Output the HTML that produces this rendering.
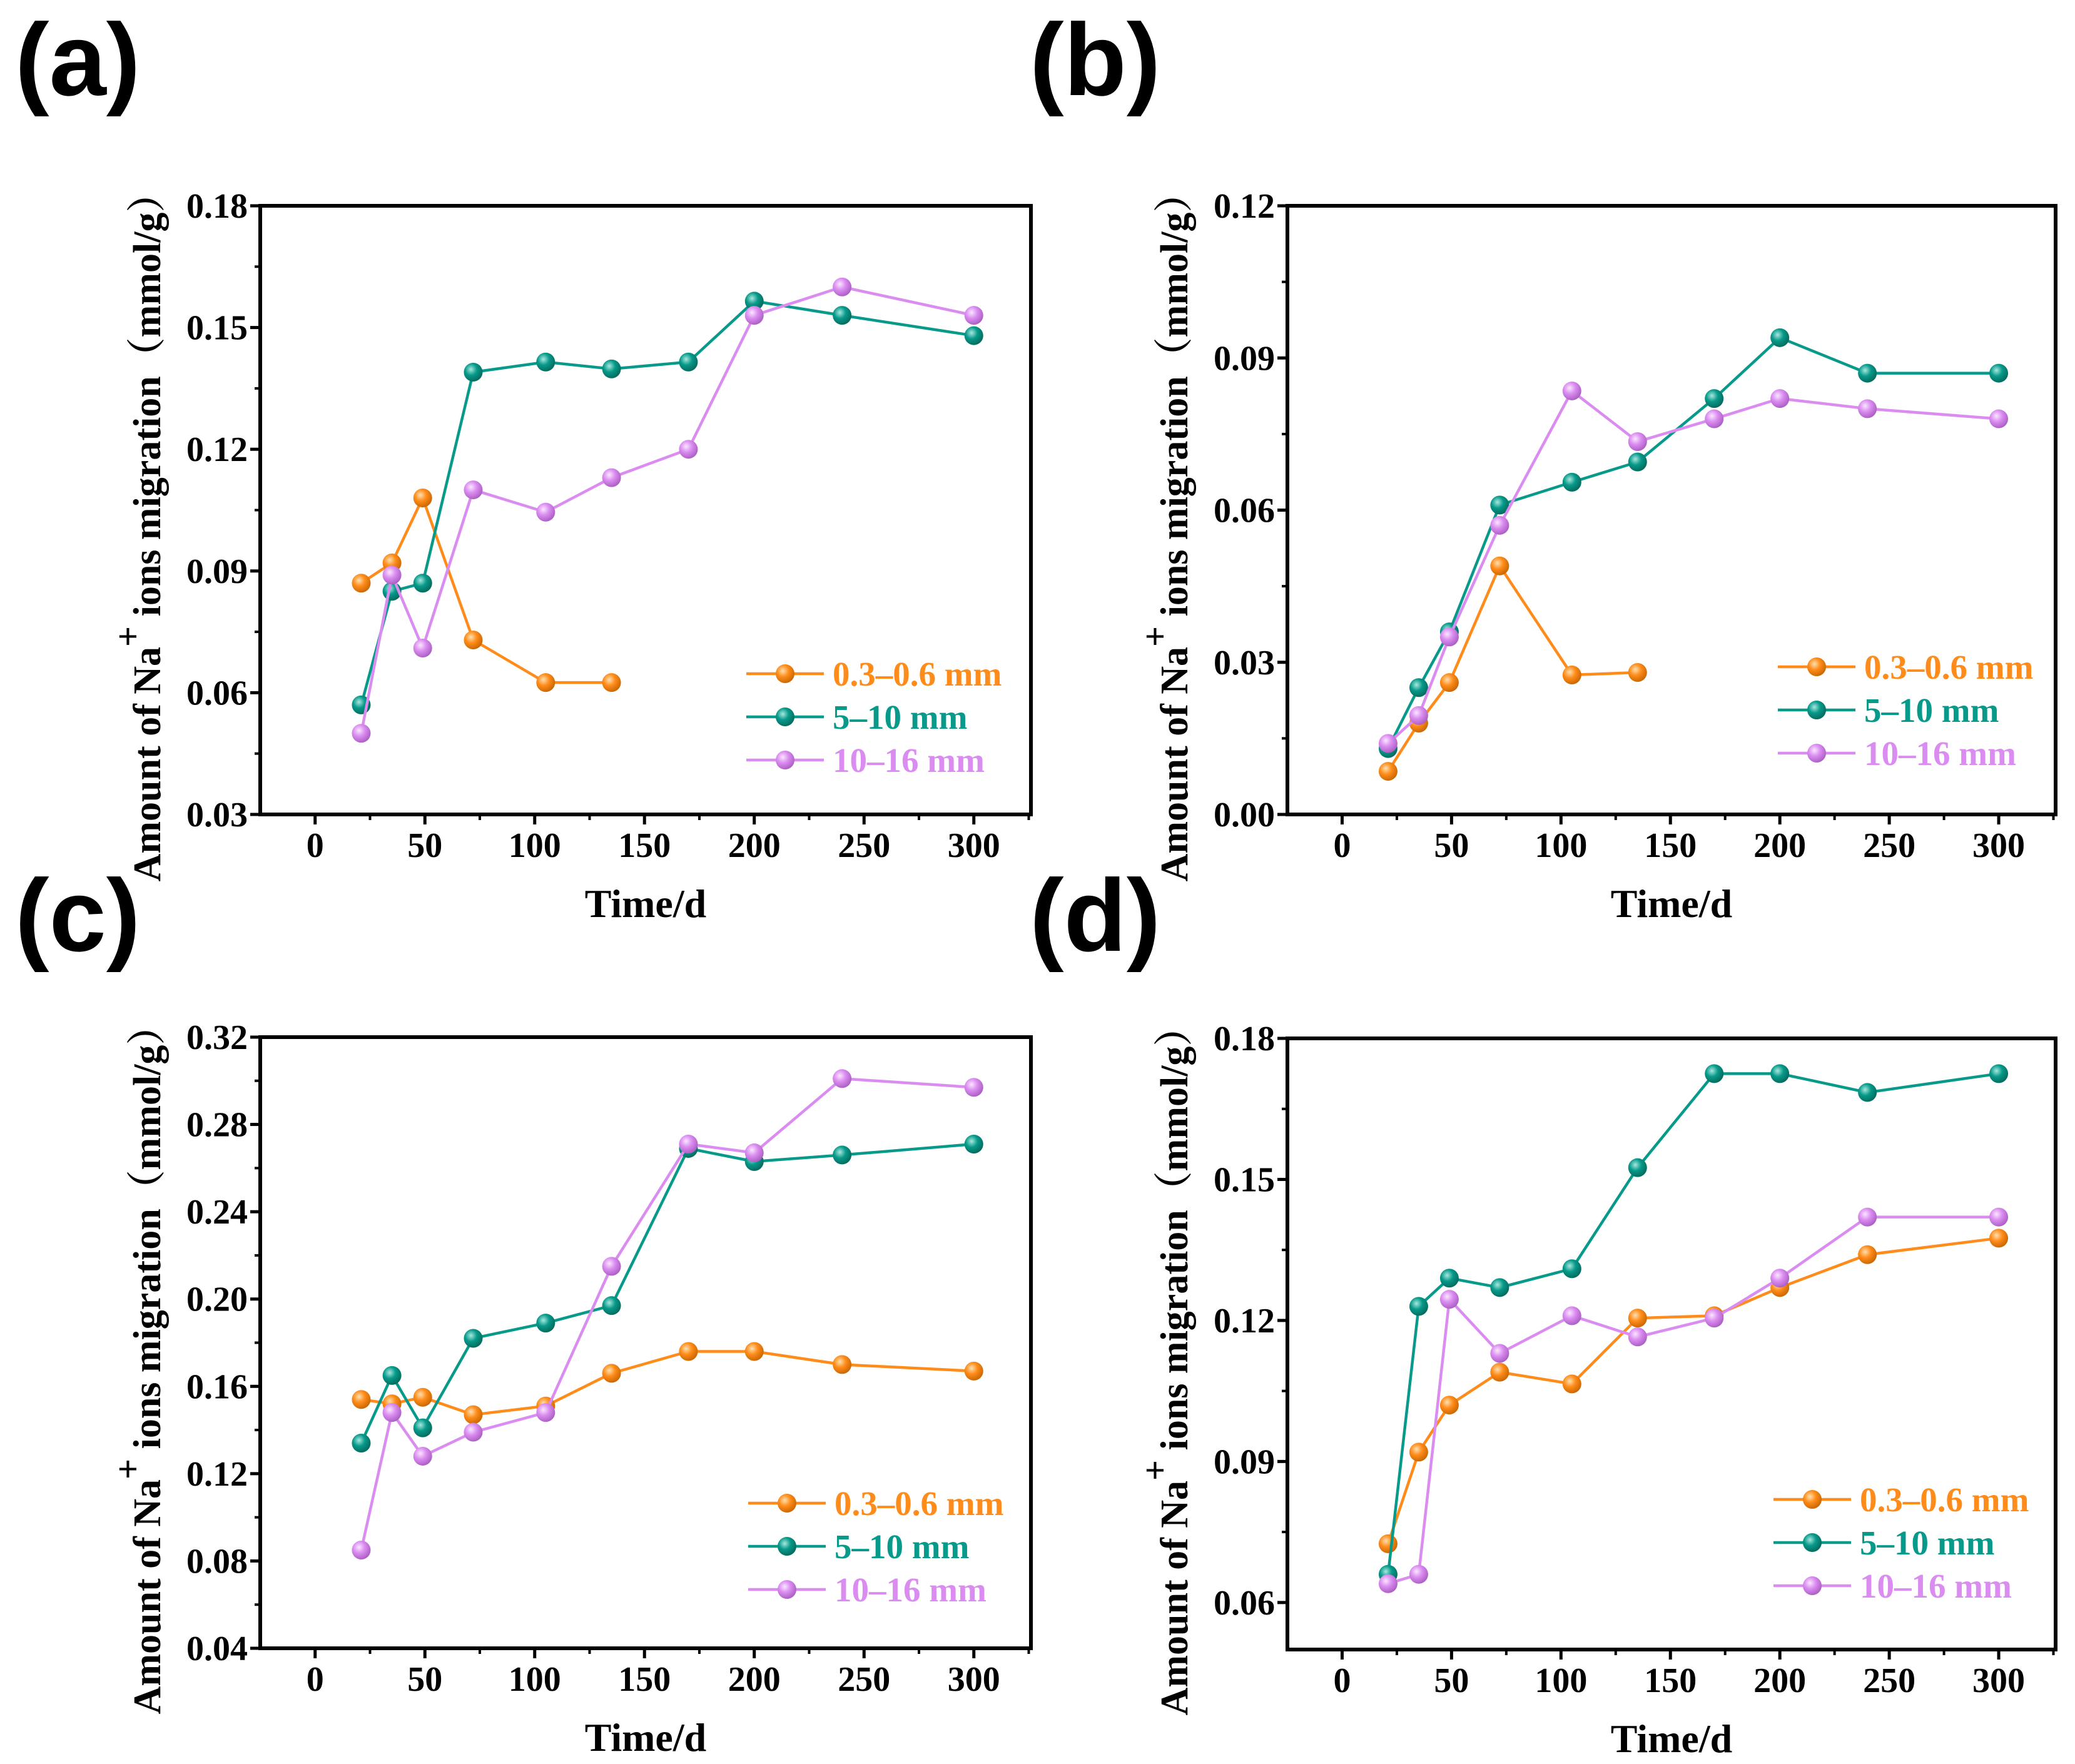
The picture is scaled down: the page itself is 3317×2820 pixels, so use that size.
<!DOCTYPE html>
<html><head><meta charset="utf-8"><style>
html,body{margin:0;padding:0;background:#fff}
svg{display:block}
</style></head><body>
<svg id="fig" width="3317" height="2820" viewBox="0 0 3317 2820" xmlns="http://www.w3.org/2000/svg">
<defs>
<radialGradient id="gO" cx="0.38" cy="0.35" r="0.7"><stop offset="0" stop-color="#ffe0b0"/><stop offset="0.45" stop-color="#ff8c1a"/><stop offset="1" stop-color="#c56400"/></radialGradient>
<radialGradient id="gT" cx="0.38" cy="0.35" r="0.7"><stop offset="0" stop-color="#a8e8df"/><stop offset="0.45" stop-color="#079a8a"/><stop offset="1" stop-color="#03665a"/></radialGradient>
<radialGradient id="gP" cx="0.38" cy="0.35" r="0.7"><stop offset="0" stop-color="#fbe6ff"/><stop offset="0.45" stop-color="#da8cf0"/><stop offset="1" stop-color="#a85bbf"/></radialGradient>
</defs>
</svg>
<script>
const days = [21, 35, 49, 72, 105, 135, 170, 200, 240, 300];
const seriesNames = ["0.3–0.6 mm", "5–10 mm", "10–16 mm"];
const aOrange = [0.087, 0.092, 0.108, 0.073, 0.0625, 0.0625];
const aTeal = [0.057, 0.085, 0.087, 0.139, 0.1415, 0.1398, 0.1415, 0.1565, 0.153, 0.148];
const aPink = [0.050, 0.089, 0.071, 0.110, 0.1045, 0.113, 0.120, 0.153, 0.160, 0.153];
const bOrange = [0.0085, 0.018, 0.026, 0.049, 0.0275, 0.028];
const bTeal = [0.013, 0.025, 0.036, 0.061, 0.0655, 0.0695, 0.082, 0.094, 0.087, 0.087];
const bPink = [0.014, 0.0195, 0.035, 0.057, 0.0835, 0.0735, 0.078, 0.082, 0.080, 0.078];
const cOrange = [0.154, 0.152, 0.155, 0.147, 0.151, 0.166, 0.176, 0.176, 0.170, 0.167];
const cTeal = [0.134, 0.165, 0.141, 0.182, 0.189, 0.197, 0.269, 0.263, 0.266, 0.271];
const cPink = [0.085, 0.148, 0.128, 0.139, 0.148, 0.215, 0.271, 0.267, 0.301, 0.297];
const dOrange = [0.0725, 0.092, 0.102, 0.109, 0.1065, 0.1205, 0.121, 0.127, 0.134, 0.1375];
const dTeal = [0.066, 0.123, 0.129, 0.127, 0.131, 0.1525, 0.1725, 0.1725, 0.1685, 0.1725];
const dPink = [0.064, 0.066, 0.1245, 0.113, 0.121, 0.1165, 0.1205, 0.129, 0.142, 0.142];
const xTicks = [0, 50, 100, 150, 200, 250, 300];
const aYTicks = [0.03, 0.06, 0.09, 0.12, 0.15, 0.18];
const bYTicks = [0.00, 0.03, 0.06, 0.09, 0.12];
const cYTicks = [0.04, 0.08, 0.12, 0.16, 0.20, 0.24, 0.28, 0.32];
const dYTicks = [0.06, 0.09, 0.12, 0.15, 0.18];

const NS = "http://www.w3.org/2000/svg";
const svg = document.getElementById('fig');
const colors = ["#ff8c1a", "#079a8a", "#da8cf0"];
const grads = ["url(#gO)", "url(#gT)", "url(#gP)"];
function mk(tag, attrs, parent) {
  const e = document.createElementNS(NS, tag);
  for (const k in attrs) e.setAttribute(k, attrs[k]);
  (parent || svg).appendChild(e);
  return e;
}
const panels = [
  {id: "a", L: 416, T: 329, W: 1232, H: 973, y0: 0.03, y1: 0.18, ticks: aYTicks, series: [aOrange, aTeal, aPink], lab: [24, 152], leg: [748, 777]},
  {id: "b", L: 2058, T: 329, W: 1228, H: 973, y0: 0.0, y1: 0.12, ticks: bYTicks, series: [bOrange, bTeal, bPink], lab: [1646, 152], leg: [737, 784]},
  {id: "c", L: 416, T: 1658, W: 1232, H: 977, y0: 0.04, y1: 0.32, ticks: cYTicks, series: [cOrange, cTeal, cPink], lab: [24, 1520], leg: [745, 780]},
  {id: "d", L: 2058, T: 1660, W: 1228, H: 977, y0: 0.05, y1: 0.18, ticks: dYTicks, series: [dOrange, dTeal, dPink], lab: [1646, 1520], leg: [737, 777]}
];
const XMIN = -25, XMAX = 326;
panels.forEach(p => {
  const g = mk('g', {});
  
  
  const xs = v => p.L + (v - XMIN) / (XMAX - XMIN) * p.W;
  const ys = v => p.T + p.H - (v - p.y0) / (p.y1 - p.y0) * p.H;
  const lab = mk('text', {x: p.lab[0], y: p.lab[1], 'font-family': 'Liberation Sans, sans-serif', 'font-weight': 'bold', 'font-size': 164}, g);
  lab.textContent = '(' + p.id + ')';
  
  
  const xa = mk('g', {}, g);
  
  
  xTicks.forEach(t => {
    mk('line', {x1: xs(t), x2: xs(t), y1: p.T + p.H, y2: p.T + p.H + 16, stroke: '#000', 'stroke-width': 5}, xa);
    mk('line', {x1: xs(t + 25), x2: xs(t + 25), y1: p.T + p.H, y2: p.T + p.H + 9, stroke: '#000', 'stroke-width': 4}, xa);
    const tx = mk('text', {x: xs(t), y: p.T + p.H + 68, 'text-anchor': 'middle', 'font-family': 'Liberation Serif, serif', 'font-weight': 'bold', 'font-size': 56}, xa);
    tx.textContent = t;
  });
  const xt = mk('text', {x: p.L + p.W / 2, y: p.T + p.H + 164, 'text-anchor': 'middle', 'font-family': 'Liberation Serif, serif', 'font-weight': 'bold', 'font-size': 64}, xa);
  xt.textContent = 'Time/d';
  
  
  const ya = mk('g', {}, g);
  
  
  p.ticks.forEach((t, i) => {
    const y = ys(t);
    mk('line', {x1: p.L - 16, x2: p.L, y1: y, y2: y, stroke: '#000', 'stroke-width': 5}, ya);
    if (i < p.ticks.length - 1) {
      const ym = ys((t + p.ticks[i + 1]) / 2);
      mk('line', {x1: p.L - 9, x2: p.L, y1: ym, y2: ym, stroke: '#000', 'stroke-width': 4}, ya);
    }
    const ty = mk('text', {x: p.L - 20, y: y + 19, 'text-anchor': 'end', 'font-family': 'Liberation Serif, serif', 'font-weight': 'bold', 'font-size': 56}, ya);
    ty.textContent = t.toFixed(2);
  });
  const cx = p.L - 160, cy = p.T + p.H / 2 + 28;
  const yt = mk('text', {x: cx, y: cy, 'text-anchor': 'middle', transform: `rotate(-90 ${cx} ${cy})`, 'font-family': 'Liberation Serif, Noto Serif CJK SC, serif', 'font-weight': 'bold', 'font-size': 62}, ya);
  
  
  yt.innerHTML = 'Amount of Na<tspan baseline-shift="super" font-size="58">+</tspan> ions migration（mmol/g）';
  p.series.forEach((arr, si) => {
    const sg = mk('g', {}, g);
    
    
    const pts = arr.map((v, i) => xs(days[i]) + ',' + ys(v)).join(' ');
    mk('polyline', {points: pts, fill: 'none', stroke: colors[si], 'stroke-width': 4.5}, sg);
    arr.forEach((v, i) => {
      const c = mk('circle', {cx: xs(days[i]), cy: ys(v), r: 15, fill: grads[si]}, sg);
      
      
    });
  });
  const lg = mk('g', {}, g);
  
  
  seriesNames.forEach((n, si) => {
    const y = p.T + p.leg[0] + si * 69;
    const x0 = p.L + p.leg[1];
    mk('line', {x1: x0, x2: x0 + 124, y1: y, y2: y, stroke: colors[si], 'stroke-width': 4.5}, lg);
    mk('circle', {cx: x0 + 62, cy: y, r: 15, fill: grads[si]}, lg);
    const t = mk('text', {x: x0 + 138, y: y + 19, fill: colors[si], 'font-family': 'Liberation Serif, serif', 'font-weight': 'bold', 'font-size': 55}, lg);
    t.textContent = n;
    
    
  });
  const fr = mk('rect', {x: p.L, y: p.T, width: p.W, height: p.H, fill: 'none', stroke: '#000', 'stroke-width': 6}, g);
  
  
});
</script>
</body></html>
